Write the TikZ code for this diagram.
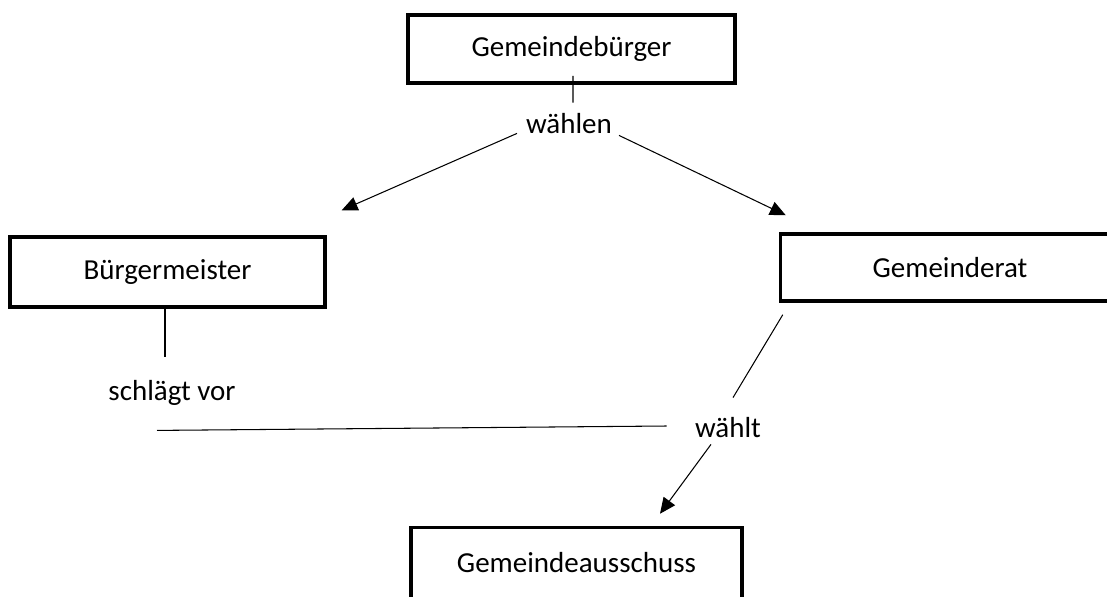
\documentclass[tikz,border=0pt]{standalone}
\usepackage{fontspec}
\setmainfont{Carlito}
\usepackage{tikz}
\usetikzlibrary{arrows.meta}
\usetikzlibrary{positioning}

\begin{document}
\begin{tikzpicture}[x=0.02cm, y=-0.02cm,
        node_style/.style={rectangle,draw=black,line width=2pt,fill=white,font=\fontsize{16.5}{20}\selectfont},
        label_style/.style={inner sep=0pt,text height=12pt,text depth=4pt,font=\fontsize{16.5}{20}\selectfont},
        line_style/.style={draw=black, line width=0.6pt},
        edge_style/.style={draw=black, line width=0.6pt,-{Triangle[length=9pt,width=8pt]}}]

        \useasboundingbox (0,0) rectangle (1107,596);
        \clip (0,0) rectangle (1107,596);

        \node [node_style,minimum width=6.54cm,minimum height=1.36cm](n1) at (571.5,49) {Gemeindebürger};
    
        \node [node_style,minimum width=6.3cm,minimum height=1.4cm](n2) at (167.5,272) {Bürgermeister};
    
        \node [node_style,minimum width=6.78cm,minimum height=1.34cm](n3) at (950,267.5) {Gemeinderat};
    
        \node [node_style,minimum width=6.62cm,minimum height=1.42cm](n4) at (576.5,563) {Gemeindeausschuss};
    
        \node [label_style](l1) at (569,126) {wählen};
    
        \node [label_style](l2) at (172,393) {schlägt vor};
    
        \node [label_style](l3) at (728,430) {wählt};
    
        \draw [line_style] ([shift={(1.5,-9)}]n1.south) -- ([shift={(4,-9)}]l1.north);
    
        \draw [edge_style] ([shift={(-52,-7)}]l1.south) -- ([shift={(15,-25)}]n2.north east);
    
        \draw [edge_style] ([shift={(50,-5)}]l1.south) -- ([shift={(7,-17)}]n3.north west);
    
        \draw [line_style] ([shift={(-2.5,0)}]n2.south) -- ([shift={(-7,-22)}]l2.north);
    
        \draw [line_style] ([shift={(-15,23)}]l2.south) -- ([shift={(-28,-4)}]l3.west);
    
        \draw [line_style] ([shift={(4,12)}]n3.south west) -- ([shift={(5,-18)}]l3.north);
    
        \draw [edge_style] ([shift={(-17,0)}]l3.south) -- ([shift={(83.5,-12)}]n4.north);
    
        \end{tikzpicture}
\end{document}
